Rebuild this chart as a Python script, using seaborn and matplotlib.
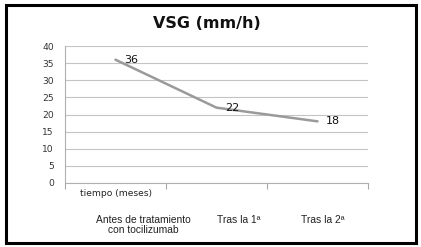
import matplotlib
matplotlib.use("Agg")
import matplotlib.pyplot as plt
import seaborn as sns
import pandas as pd
from matplotlib.patches import Rectangle
from matplotlib.transforms import blended_transform_factory

categories = ["Antes de tratamiento\ncon tocilizumab", "Tras la 1ª", "Tras la 2ª"]
values = [36, 22, 18]
yticks = [0, 5, 10, 15, 20, 25, 30, 35, 40]

sns.set_style("white")
plt.rcParams['font.family'] = ['DejaVu Sans']

df = pd.DataFrame({"pos": list(range(len(categories))), "val": values})

fig = plt.figure(figsize=(4.21, 2.47), dpi=100)
ax = fig.add_axes([65/421, 64/247, (368-65)/421, (183-46)/247])

sns.lineplot(data=df, x="pos", y="val", ax=ax, color="#9a9a9a", linewidth=1.8)

ax.set_xlim(-0.5, len(categories) - 0.5)
ax.set_ylim(0, 40)
ax.set_yticks(yticks)
ax.set_yticklabels([str(t) for t in yticks], fontsize=6.6, color="#333333")
ax.set_xticks([-0.5, 0.5, 1.5, 2.5])
ax.set_xticklabels([])
ax.grid(axis="y", color="#c4c4c4", linewidth=0.8)
ax.grid(axis="x", visible=False)
ax.set_axisbelow(True)
for s in ["top", "right"]:
    ax.spines[s].set_visible(False)
for s in ["left", "bottom"]:
    ax.spines[s].set_color("#b0b0b0")
    ax.spines[s].set_linewidth(0.8)
ax.tick_params(axis="y", length=3, color="#b0b0b0", pad=5, width=0.8)
ax.tick_params(axis="x", length=4, color="#a8a8a8", width=0.8, bottom=True)
ax.set_xlabel("")
ax.set_ylabel("")

for i, v in enumerate(values):
    ax.annotate(str(v), (i, v), xytext=(6, 0), textcoords="offset points",
                ha="left", va="center", fontsize=8, color="#111111")

# axis title
fig.text(80/421, 1 - 194/247, "tiempo (meses)", fontsize=6.6, ha="left", va="center", color="#222222")

# category labels
trans = blended_transform_factory(ax.transData, fig.transFigure)
offsets = [0.28, 0.22, 0.05]
for i, (c, o) in enumerate(zip(categories, offsets)):
    ax.text(i + o, 1 - 214.5/247, c, transform=trans, ha="center", va="top",
            fontsize=7.4, family=["Liberation Sans"], color="#222222",
            linespacing=1.1)

fig.text(207/421, 1 - 23/247, "VSG (mm/h)", fontsize=11.5, fontweight="bold",
         ha="center", va="center", color="#111111")

fig.patches.append(Rectangle((5.5/421, 4.5/247), (416-5.5)/421, (242-4.5)/247,
                             transform=fig.transFigure, fill=False,
                             edgecolor="black", linewidth=2.2))

fig.savefig("out.png", dpi=100)
